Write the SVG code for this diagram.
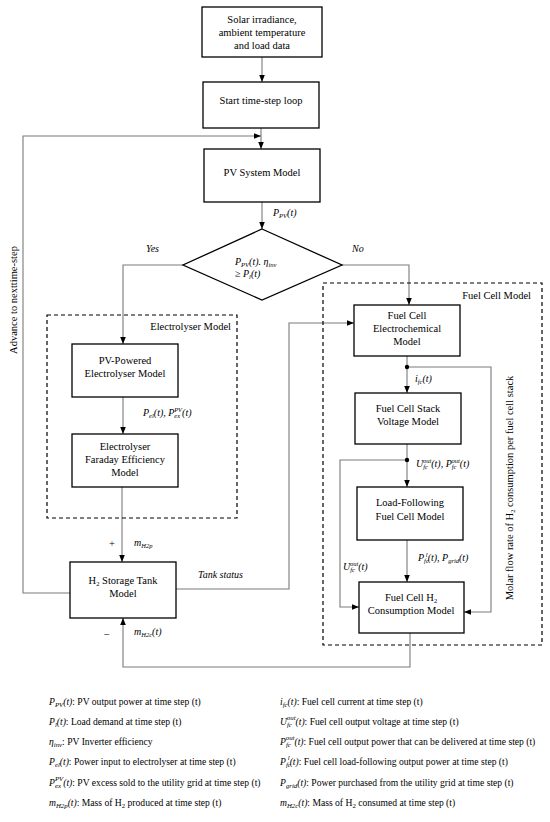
<svg xmlns="http://www.w3.org/2000/svg" width="550" height="822" viewBox="0 0 550 822">
<style>
.box{fill:#fff;stroke:#000;stroke-width:1.3}
.dash{fill:none;stroke:#000;stroke-width:1.2;stroke-dasharray:4,3}
.con{fill:none;stroke:#7a7a7a;stroke-width:1.1}
.t{font-family:"Liberation Serif","Times New Roman",serif;font-size:10.5px;fill:#000;text-anchor:middle}
.m{font-family:"Liberation Serif","Times New Roman",serif;font-size:10px;font-style:italic;fill:#000}
.s{font-size:6.5px}
.lg{font-family:"Liberation Serif","Times New Roman",serif;font-size:9.6px;fill:#000}
.sl{font-size:6.8px}
.i{font-style:italic}
</style>
<defs>
<marker id="ah" viewBox="0 0 10 10" refX="10" refY="5" markerWidth="7" markerHeight="7" orient="auto" markerUnits="userSpaceOnUse"><path d="M0,1 L10,5 L0,9 z" fill="#000"/></marker>
</defs>
<g id="connectors">
<path class="con" d="M262,57 V82" marker-end="url(#ah)"/>
<path class="con" d="M261,128 V149" marker-end="url(#ah)"/>
<path class="con" d="M70,593 H23 V136 H261" marker-end="url(#ah)"/>
<path class="con" d="M262,202 V229" marker-end="url(#ah)"/>
<path class="con" d="M183,265 H123 V344" marker-end="url(#ah)"/>
<path class="con" d="M342,265 H409 V305" marker-end="url(#ah)"/>
<path class="con" d="M123,397 V434" marker-end="url(#ah)"/>
<path class="con" d="M122,487 V562" marker-end="url(#ah)"/>
<path class="con" d="M176,589 H289 V323 H354" marker-end="url(#ah)"/>
<path class="con" d="M407,356 V393" marker-end="url(#ah)"/>
<path class="con" d="M407,367 H491 V612 H464" marker-end="url(#ah)"/>
<path class="con" d="M407,444 V487" marker-end="url(#ah)"/>
<path class="con" d="M407,460 H340 V607 H359" marker-end="url(#ah)"/>
<path class="con" d="M407,540 V582" marker-end="url(#ah)"/>
<path class="con" d="M410,633 V667 H123 V618" marker-end="url(#ah)"/>
<circle cx="407" cy="367" r="2.2" fill="#000"/>
<circle cx="407" cy="460" r="2.2" fill="#000"/>
<text class="m" x="273" y="216">P<tspan class="s" dy="2">PV</tspan><tspan dy="-2">(t)</tspan></text>
<text class="m" x="146" y="252">Yes</text>
<text class="m" x="352" y="252">No</text>
<text class="m" x="143" y="416">P<tspan class="s" dy="2">el</tspan><tspan dy="-2">(t), P</tspan><tspan class="s" dy="2">ex</tspan><tspan class="s" dx="-6" dy="-6">PV</tspan><tspan dy="4">(t)</tspan></text>
<text class="m" x="415" y="382">i<tspan class="s" dy="2">fc</tspan><tspan dy="-2">(t)</tspan></text>
<text class="m" x="416" y="467">U<tspan class="s" dy="2">fc</tspan><tspan class="s" dx="-5" dy="-6">out</tspan><tspan dy="4">(t), P</tspan><tspan class="s" dy="2">fc</tspan><tspan class="s" dx="-5" dy="-6">out</tspan><tspan dy="4">(t)</tspan></text>
<text class="m" x="343" y="570">U<tspan class="s" dy="2">fc</tspan><tspan class="s" dx="-5" dy="-6">out</tspan><tspan dy="4">(t)</tspan></text>
<text class="m" x="418" y="561">P<tspan class="s" dy="2">fc</tspan><tspan class="s" dx="-3" dy="-6">l</tspan><tspan dy="4">(t), P</tspan><tspan class="s" dy="2">grid</tspan><tspan dy="-2">(t)</tspan></text>
<text class="t" x="112" y="547">+</text>
<text class="m" x="134" y="546">m<tspan class="s" dy="2">H2p</tspan></text>
<text class="m" x="198" y="578">Tank status</text>
<text class="t" x="107" y="638">−</text>
<text class="m" x="134" y="635">m<tspan class="s" dy="2">H2c</tspan><tspan dy="-2">(t)</tspan></text>
<text class="t" transform="translate(17,300) rotate(-90)">Advance to nexttime-step</text>
<text class="t" transform="translate(513,488) rotate(-90)">Molar flow rate of H<tspan class="s" dy="2">2</tspan><tspan dy="-2"> consumption per fuel cell stack</tspan></text>
</g>
<g id="n-input"><rect class="box" x="202" y="7" width="120" height="50"/>
<text class="t" x="262" y="23">Solar irradiance,</text><text class="t" x="262" y="36">ambient temperature</text><text class="t" x="262" y="49">and load data</text></g>
<g id="n-start"><rect class="box" x="203" y="82" width="116" height="46"/><text class="t" x="261" y="104">Start time-step loop</text></g>
<g id="n-pv"><rect class="box" x="204" y="149" width="116" height="53"/><text class="t" x="262" y="176">PV System Model</text></g>
<g id="n-decision"><path class="box" d="M262,229 L342,265 L262,300 L183,265 Z"/>
<text class="m" x="235" y="265">P<tspan class="s" dy="2">PV</tspan><tspan dy="-2">(t). η</tspan><tspan class="s" dy="2">inv</tspan></text>
<text class="m" x="235" y="277">≥ P<tspan class="s" dy="2">l</tspan><tspan dy="-2">(t)</tspan></text></g>
<g id="g-electrolyser"><rect class="dash" x="47" y="315" width="190" height="203"/>
<text class="t" x="231" y="330" style="text-anchor:end">Electrolyser Model</text></g>
<g id="n-pvel"><rect class="box" x="72" y="344" width="106" height="53"/>
<text class="t" x="125" y="364">PV-Powered</text><text class="t" x="125" y="377">Electrolyser Model</text></g>
<g id="n-faraday"><rect class="box" x="72" y="434" width="106" height="53"/>
<text class="t" x="125" y="450">Electrolyser</text><text class="t" x="125" y="463">Faraday Efficiency</text><text class="t" x="125" y="476">Model</text></g>
<g id="n-tank"><rect class="box" x="70" y="562" width="106" height="56"/>
<text class="t" x="123" y="584">H<tspan class="s" dy="2">2</tspan><tspan dy="-2"> Storage Tank</tspan></text><text class="t" x="123" y="597">Model</text></g>
<g id="g-fuelcell"><rect class="dash" x="323" y="283" width="219" height="362"/>
<text class="t" x="531" y="299" style="text-anchor:end">Fuel Cell Model</text></g>
<g id="n-fcec"><rect class="box" x="354" y="305" width="106" height="51"/>
<text class="t" x="407" y="319">Fuel Cell</text><text class="t" x="407" y="332">Electrochemical</text><text class="t" x="407" y="345">Model</text></g>
<g id="n-fcsv"><rect class="box" x="355" y="393" width="106" height="51"/>
<text class="t" x="408" y="412">Fuel Cell Stack</text><text class="t" x="408" y="425">Voltage Model</text></g>
<g id="n-fclf"><rect class="box" x="357" y="487" width="106" height="53"/>
<text class="t" x="410" y="506">Load-Following</text><text class="t" x="410" y="520">Fuel Cell Model</text></g>
<g id="n-fch2"><rect class="box" x="359" y="582" width="105" height="51"/>
<text class="t" x="411" y="601">Fuel Cell H<tspan class="s" dy="2">2</tspan></text><text class="t" x="411" y="614">Consumption Model</text></g>
<g id="legend">
<text class="lg" x="49" y="705"><tspan class="i">P</tspan><tspan class="sl i" dy="2">PV</tspan><tspan class="i" dy="-2">(t)</tspan>: PV output power at time step (t)</text>
<text class="lg" x="49" y="725"><tspan class="i">P</tspan><tspan class="sl i" dy="2">l</tspan><tspan class="i" dy="-2">(t)</tspan>: Load demand at time step (t)</text>
<text class="lg" x="49" y="745"><tspan class="i">η</tspan><tspan class="sl i" dy="2">inv</tspan><tspan dy="-2">: PV Inverter efficiency</tspan></text>
<text class="lg" x="49" y="765"><tspan class="i">P</tspan><tspan class="sl i" dy="2">el</tspan><tspan class="i" dy="-2">(t)</tspan>: Power input to electrolyser at time step (t)</text>
<text class="lg" x="49" y="786"><tspan class="i">P</tspan><tspan class="sl i" dy="2">ex</tspan><tspan class="sl i" dx="-6" dy="-7">PV</tspan><tspan class="i" dy="5">(t)</tspan>: PV excess sold to the utility grid at time step (t)</text>
<text class="lg" x="49" y="806"><tspan class="i">m</tspan><tspan class="sl i" dy="2">H2p</tspan><tspan class="i" dy="-2">(t)</tspan>: Mass of H<tspan class="sl" dy="2">2</tspan><tspan dy="-2"> produced at time step (t)</tspan></text>
<text class="lg" x="280" y="705"><tspan class="i">i</tspan><tspan class="sl i" dy="2">fc</tspan><tspan class="i" dy="-2">(t)</tspan>: Fuel cell current at time step (t)</text>
<text class="lg" x="280" y="725"><tspan class="i">U</tspan><tspan class="sl i" dy="2">fc</tspan><tspan class="sl i" dx="-5" dy="-7">out</tspan><tspan class="i" dy="5">(t)</tspan>: Fuel cell output voltage at time step (t)</text>
<text class="lg" x="280" y="745"><tspan class="i">P</tspan><tspan class="sl i" dy="2">fc</tspan><tspan class="sl i" dx="-5" dy="-7">out</tspan><tspan class="i" dy="5">(t)</tspan>: Fuel cell output power that can be delivered at time step (t)</text>
<text class="lg" x="280" y="765"><tspan class="i">P</tspan><tspan class="sl i" dy="2">fc</tspan><tspan class="sl i" dx="-3" dy="-7">l</tspan><tspan class="i" dy="5">(t)</tspan>: Fuel cell load-following output power at time step (t)</text>
<text class="lg" x="280" y="786"><tspan class="i">P</tspan><tspan class="sl i" dy="2">grid</tspan><tspan class="i" dy="-2">(t)</tspan>: Power purchased from the utility grid at time step (t)</text>
<text class="lg" x="280" y="806"><tspan class="i">m</tspan><tspan class="sl i" dy="2">H2c</tspan><tspan class="i" dy="-2">(t)</tspan>: Mass of H<tspan class="sl" dy="2">2</tspan><tspan dy="-2"> consumed at time step (t)</tspan></text>
</g>
</svg>
